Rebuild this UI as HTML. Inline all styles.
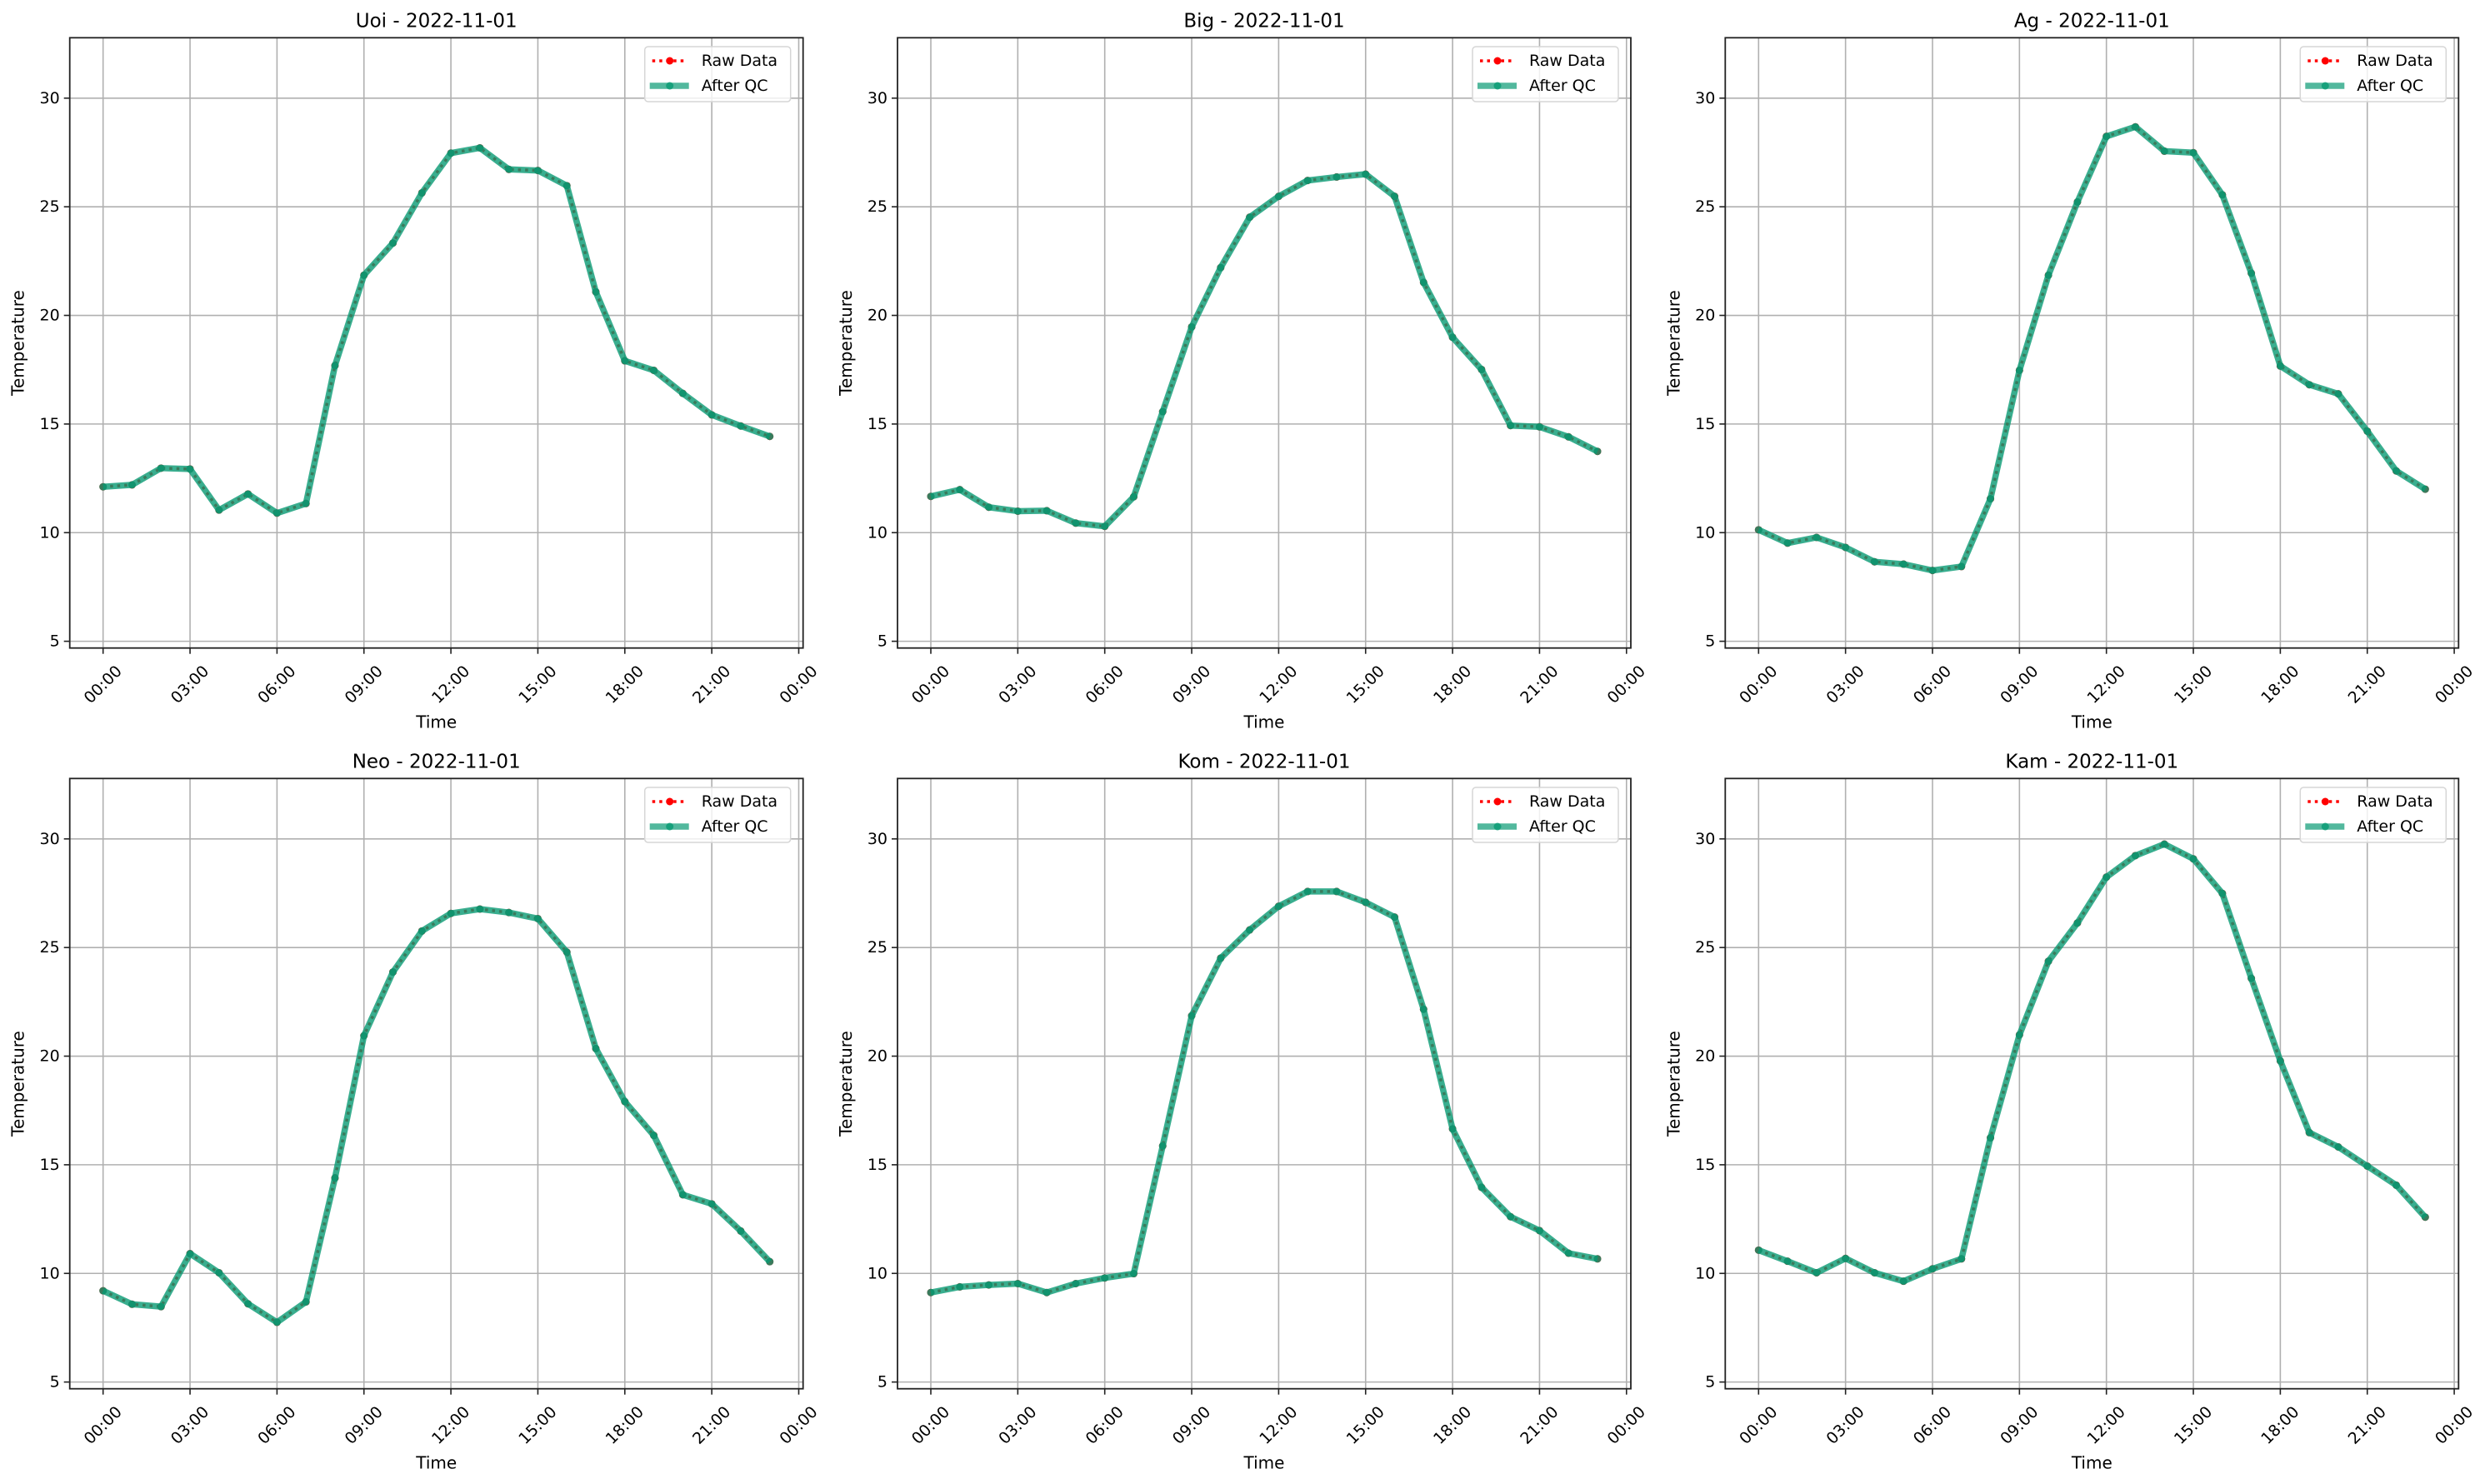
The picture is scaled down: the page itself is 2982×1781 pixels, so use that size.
<!DOCTYPE html>
<html><head><meta charset="utf-8"><style>
html,body{margin:0;padding:0;background:#fff;}
svg{display:block;font-family:"DejaVu Sans","Liberation Sans",sans-serif;}
</style></head><body>
<svg id="fig" width="2982" height="1781" viewBox="0 0 2982 1781" xmlns="http://www.w3.org/2000/svg"></svg>
<script>
const stations = ["Uoi","Big","Ag","Neo","Kom","Kam"];
const dateLabel = "2022-11-01";
const hours = [0,1,2,3,4,5,6,7,8,9,10,11,12,13,14,15,16,17,18,19,20,21,22,23];
const xTickHours = [0,3,6,9,12,15,18,21,24];
const xTickLabels = ["00:00","03:00","06:00","09:00","12:00","15:00","18:00","21:00","00:00"];
const yTicks = [5,10,15,20,25,30];
const uoiTemps = [12.11,12.2,12.97,12.93,11.04,11.78,10.9,11.34,17.69,21.85,23.33,25.64,27.47,27.71,26.72,26.67,25.97,21.08,17.91,17.47,16.41,15.42,14.91,14.43];
const bigTemps = [11.67,11.98,11.17,10.99,11.01,10.44,10.29,11.65,15.57,19.47,22.2,24.52,25.48,26.21,26.37,26.5,25.48,21.52,18.99,17.51,14.93,14.87,14.41,13.74];
const agTemps = [10.13,9.52,9.78,9.32,8.66,8.55,8.26,8.44,11.56,17.47,21.85,25.22,28.24,28.68,27.56,27.49,25.55,21.94,17.67,16.81,16.39,14.67,12.84,12.0];
const neoTemps = [9.2,8.58,8.47,10.91,10.03,8.6,7.75,8.69,14.39,20.94,23.87,25.76,26.57,26.77,26.61,26.33,24.79,20.35,17.91,16.35,13.62,13.2,11.95,10.54];
const komTemps = [9.12,9.38,9.47,9.53,9.12,9.53,9.79,9.99,15.87,21.86,24.51,25.81,26.9,27.58,27.58,27.08,26.4,22.16,16.65,13.96,12.61,11.97,10.93,10.67];
const kamTemps = [11.07,10.56,10.03,10.69,10.03,9.64,10.21,10.67,16.24,20.98,24.37,26.13,28.24,29.23,29.76,29.08,27.49,23.58,19.78,16.48,15.82,14.94,14.06,12.59];
const rawSeries = [uoiTemps,bigTemps,agTemps,neoTemps,komTemps,kamTemps];
const qcSeries = [uoiTemps,bigTemps,agTemps,neoTemps,komTemps,kamTemps];

const NS="http://www.w3.org/2000/svg";
const svg=document.getElementById('fig');
function mk(tag,attrs,parent){const e=document.createElementNS(NS,tag);for(const k in attrs)e.setAttribute(k,attrs[k]);(parent||svg).appendChild(e);return e;}

const AX_W=880, AX_H=732.4, COL_DX=993.3, ROW_DY=889;
const Y_MIN=4.69, Y_MAX=32.78, X_MIN=-1.15, X_MAX=24.15;

stations.forEach((name,i)=>{
  const c=i%3, r=Math.floor(i/3);
  const L=83.7+COL_DX*c, T=45.3+ROW_DY*r;
  const xs=h=>L+(h-X_MIN)/(X_MAX-X_MIN)*AX_W;
  const ys=v=>T+(Y_MAX-v)/(Y_MAX-Y_MIN)*AX_H;
  const g=mk('g',{});
  
  

  const title=mk('text',{x:L+AX_W/2,y:T-13,'text-anchor':'middle','font-size':23,fill:'#000'},g);
  
  
  title.textContent=name+' - '+dateLabel;

  xTickHours.forEach((h,k)=>{
    const x=xs(h);
    const gl=mk('line',{x1:x,x2:x,y1:T,y2:T+AX_H,stroke:'#b0b0b0','stroke-width':1.6},g);
    
    
    const tk=mk('line',{x1:x,x2:x,y1:T+AX_H,y2:T+AX_H+7,stroke:'#222','stroke-width':1.6},g);
    
    
    const cy=T+AX_H+44;
    const tl=mk('text',{x:x,y:cy,'text-anchor':'middle','dominant-baseline':'central','font-size':19,fill:'#000',transform:`rotate(-45 ${x} ${cy})`},g);
    
    
    tl.textContent=xTickLabels[k];
  });
  yTicks.forEach(v=>{
    const y=ys(v);
    const gl=mk('line',{x1:L,x2:L+AX_W,y1:y,y2:y,stroke:'#b0b0b0','stroke-width':1.6},g);
    
    
    const tk=mk('line',{x1:L-7,x2:L,y1:y,y2:y,stroke:'#222','stroke-width':1.6},g);
    
    
    const tl=mk('text',{x:L-12,y:y,'text-anchor':'end','dominant-baseline':'central','font-size':19,fill:'#000'},g);
    
    
    tl.textContent=String(v);
  });

  const raw=rawSeries[i], qc=qcSeries[i];
  const rawPts=hours.map((h,k)=>xs(h)+','+ys(raw[k])).join(' ');
  const rl=mk('polyline',{points:rawPts,fill:'none',stroke:'#ff0000','stroke-width':3.5,'stroke-dasharray':'3.5 5'},g);
  
  
  hours.forEach((h,k)=>{
    const m=mk('circle',{cx:xs(h),cy:ys(raw[k]),r:4.5,fill:'#ff0000'},g);
    
    
  });
  const qcPts=hours.map((h,k)=>xs(h)+','+ys(qc[k])).join(' ');
  const ql=mk('polyline',{points:qcPts,fill:'none',stroke:'#089a73','stroke-width':7.5,'stroke-opacity':0.8,'stroke-linejoin':'round'},g);
  
  
  hours.forEach((h,k)=>{
    const m=mk('circle',{cx:xs(h),cy:ys(qc[k]),r:4.5,fill:'#089a73','fill-opacity':0.8},g);
    
    
  });

  const sp=mk('rect',{x:L,y:T,width:AX_W,height:AX_H,fill:'none',stroke:'#222','stroke-width':1.8},g);
  
  

  const xl=mk('text',{x:L+AX_W/2,y:T+AX_H+96,'text-anchor':'middle','font-size':20,fill:'#000'},g);
  
  
  xl.textContent='Time';
  const yx=L-62, yy=T+AX_H/2;
  const yl=mk('text',{x:yx,y:yy,'text-anchor':'middle','dominant-baseline':'central','font-size':20,fill:'#000',transform:`rotate(-90 ${yx} ${yy})`},g);
  
  
  yl.textContent='Temperature';

  const lx=L+AX_W-190, ly=T+10.7;
  const lg=mk('g',{},g);
  
  
  mk('rect',{x:lx,y:ly,width:175,height:66,rx:4,fill:'#fff','fill-opacity':0.8,stroke:'#d6d6d6','stroke-width':1.5},lg);
  const e1=mk('g',{},lg);
  
  
  mk('line',{x1:lx+9,x2:lx+47,y1:ly+17,y2:ly+17,stroke:'#ff0000','stroke-width':3.5,'stroke-dasharray':'3.5 5'},e1);
  mk('circle',{cx:lx+30,cy:ly+17,r:4.5,fill:'#ff0000'},e1);
  const t1=mk('text',{x:lx+68,y:ly+17,'dominant-baseline':'central','font-size':19,fill:'#000'},e1);
  t1.textContent='Raw Data';
  const e2=mk('g',{},lg);
  
  
  mk('line',{x1:lx+6,x2:lx+53,y1:ly+47,y2:ly+47,stroke:'#089a73','stroke-opacity':0.7,'stroke-width':7.5},e2);
  mk('circle',{cx:lx+30,cy:ly+47,r:4.5,fill:'#089a73','fill-opacity':0.8},e2);
  const t2=mk('text',{x:lx+68,y:ly+47,'dominant-baseline':'central','font-size':19,fill:'#000'},e2);
  t2.textContent='After QC';
});
</script>
</body></html>
